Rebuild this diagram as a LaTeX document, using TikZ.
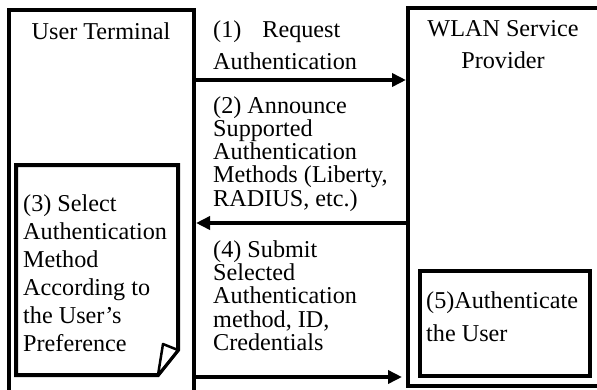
\documentclass[tikz,border=0pt]{standalone}
\usepackage{fontspec}
\setmainfont{Liberation Serif}
\usetikzlibrary{arrows.meta}
\newcommand\lbltext[2]{\parbox[t]{220pt}{\raggedright\fontsize{24.2}{#1}\selectfont #2}}
\begin{document}
\begin{tikzpicture}[x=1pt,y=-1pt,
  frame/.style={line width=4pt},
  msg/.style={line width=4pt,-{Triangle[length=14pt,width=13pt]}},
  txt/.style={inner sep=0pt,anchor=base west}]
\useasboundingbox (0,0) rectangle (597,389);
\clip (0,0) rectangle (597,389);
% lifeline boxes
\draw[frame] (9,395) -- (9,10) -- (194,10) -- (194,395);
\draw[frame] (605,8) -- (408,8) -- (408,386) -- (605,386);
% note (3) with curled corner
\draw[frame,fill=white] (16,165) -- (178,165) -- (178,350) -- (158,375) -- (16,375) -- cycle;
\draw[line width=2.5pt,fill=white,line join=round] (163,344) -- (178,350) -- (158,375) -- cycle;
% box (5)
\draw[frame] (420,271) rectangle (590,376);
% titles
\node[inner sep=0pt,anchor=base] (ut) at (101,39) {\fontsize{24.2}{28}\selectfont User Terminal};
\node[inner sep=0pt,anchor=base] (wlan) at (503,36) {\parbox[t]{220pt}{\centering\fontsize{24.2}{32}\selectfont WLAN Service\\Provider}};
% labels
\node[txt] (m1) at (213,37) {\lbltext{32}{(1)\hspace{21pt}Request\\Authentication}};
\node[txt] (m2) at (213,113) {\lbltext{23.3}{(2) Announce\\Supported\\Authentication\\Methods (Liberty,\\RADIUS, etc.)}};
\node[txt] (m4) at (213,257) {\lbltext{23.4}{(4) Submit\\Selected\\Authentication\\method, ID,\\Credentials}};
\node[txt] (s3) at (23,211) {\lbltext{28}{(3) Select\\Authentication\\Method\\According to\\the User’s\\Preference}};
\node[txt] (s5) at (426,308) {\lbltext{33}{(5)Authenticate\\the User}};
% connector end points on the lifelines
\coordinate (ut1) at (196,80);  \coordinate (sp1) at (406,80);
\coordinate (sp2) at (406,223); \coordinate (ut2) at (196,223);
\coordinate (ut4) at (196,377); \coordinate (sp4) at (402,377);
\draw[msg] (ut1) -- (sp1);
\draw[msg] (sp2) -- (ut2);
\draw[msg] (ut4) -- (sp4);
\end{tikzpicture}
\end{document}
